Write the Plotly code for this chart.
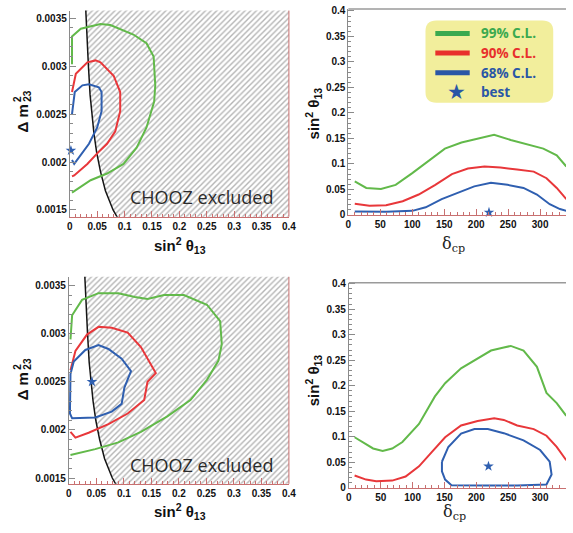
import plotly.graph_objects as go

# ---------------- data ----------------
# Top-left: delta m^2_23 vs sin^2 theta_13
tl_green_x = [0.004, 0.004, 0.02, 0.056, 0.074, 0.116, 0.14, 0.153, 0.156, 0.154, 0.14, 0.122, 0.098, 0.068, 0.038, 0.008, 0.004]
tl_green_y = [0.00302, 0.00331, 0.00339, 0.00344, 0.00343, 0.00333, 0.00324, 0.0031, 0.0028, 0.00263, 0.00236, 0.00215, 0.00198, 0.00188, 0.00181, 0.0017, 0.00168]
tl_red_x = [0.004, 0.011, 0.032, 0.047, 0.056, 0.08, 0.092, 0.092, 0.083, 0.068, 0.05, 0.032, 0.008, 0.004]
tl_red_y = [0.00273, 0.00292, 0.00304, 0.00306, 0.00304, 0.0029, 0.00273, 0.00253, 0.00232, 0.00219, 0.00209, 0.00198, 0.00186, 0.00185]
tl_blue_x = [0.004, 0.009, 0.023, 0.035, 0.053, 0.058, 0.058, 0.05, 0.035, 0.017, 0.008, 0.004]
tl_blue_y = [0.0025, 0.00273, 0.0028, 0.00281, 0.00278, 0.00273, 0.00253, 0.00236, 0.00219, 0.00205, 0.00198, 0.00202]
tl_best = (0.002, 0.00212)

# Bottom-left
bl_green_x = [0.003, 0.006, 0.024, 0.054, 0.09, 0.12, 0.143, 0.173, 0.209, 0.251, 0.275, 0.278, 0.272, 0.251, 0.221, 0.179, 0.131, 0.09, 0.048, 0.012, 0.003]
bl_green_y = [0.00294, 0.00319, 0.00335, 0.00342, 0.00342, 0.00338, 0.00336, 0.0034, 0.0034, 0.0033, 0.00313, 0.00289, 0.00272, 0.00252, 0.00231, 0.00214, 0.00198, 0.00187, 0.0018, 0.00175, 0.00174]
bl_red_x = [0.003, 0.012, 0.033, 0.054, 0.078, 0.107, 0.131, 0.158, 0.143, 0.137, 0.107, 0.072, 0.036, 0.012, 0.003]
bl_red_y = [0.00262, 0.00282, 0.00299, 0.00307, 0.00306, 0.00301, 0.00286, 0.00259, 0.0025, 0.00231, 0.00217, 0.00206, 0.00197, 0.00192, 0.00198]
bl_blue_x = [0.003, 0.009, 0.03, 0.054, 0.072, 0.096, 0.113, 0.101, 0.096, 0.078, 0.048, 0.024, 0.006, 0.002, 0.002, 0.003]
bl_blue_y = [0.00258, 0.00271, 0.00283, 0.00288, 0.00284, 0.00274, 0.00261, 0.00244, 0.00227, 0.00219, 0.00213, 0.00212, 0.00212, 0.00217, 0.00238, 0.00258]
bl_best = (0.042, 0.0025)

# CHOOZ exclusion boundary
chooz_y = [0.00360, 0.0033, 0.0030, 0.0027, 0.0025, 0.0023, 0.0021, 0.0019, 0.0017, 0.0015, 0.00140]
chooz_x = [0.029, 0.031, 0.034, 0.037, 0.040, 0.044, 0.049, 0.056, 0.065, 0.079, 0.089]

# Top-right: sin^2 theta_13 vs delta_cp
tr_green_x = [10, 28, 51, 74, 100, 126, 151, 177, 203, 228, 254, 280, 305, 326, 341]
tr_green_y = [0.066, 0.053, 0.051, 0.059, 0.082, 0.107, 0.13, 0.142, 0.150, 0.157, 0.147, 0.139, 0.13, 0.117, 0.095]
tr_red_x = [10, 33, 59, 85, 110, 136, 162, 187, 213, 238, 264, 290, 310, 326, 341]
tr_red_y = [0.022, 0.018, 0.019, 0.027, 0.04, 0.059, 0.08, 0.091, 0.095, 0.093, 0.089, 0.085, 0.072, 0.053, 0.031]
tr_blue_x = [10, 59, 100, 121, 146, 172, 197, 223, 249, 274, 295, 315, 331, 341]
tr_blue_y = [0.007, 0.0064, 0.008, 0.015, 0.031, 0.043, 0.056, 0.063, 0.059, 0.053, 0.04, 0.021, 0.0115, 0.008]
tr_best = (220, 0.005)

# Bottom-right
br_green_x = [9, 22, 38, 53, 68, 84, 110, 135, 151, 176, 202, 223, 243, 254, 274, 295, 310, 326, 341]
br_green_y = [0.099, 0.0896, 0.077, 0.072, 0.077, 0.0896, 0.125, 0.179, 0.205, 0.234, 0.253, 0.269, 0.275, 0.278, 0.269, 0.237, 0.186, 0.166, 0.141]
br_red_x = [9, 27, 43, 68, 89, 110, 130, 151, 176, 202, 228, 243, 264, 290, 310, 326, 341]
br_red_y = [0.024, 0.016, 0.0128, 0.014, 0.022, 0.042, 0.07, 0.099, 0.122, 0.131, 0.136, 0.133, 0.122, 0.115, 0.102, 0.08, 0.054]
br_blue_x = [146, 156, 176, 197, 218, 243, 274, 300, 315, 318, 310, 264, 213, 161, 151, 146, 146]
br_blue_y = [0.051, 0.08, 0.106, 0.115, 0.115, 0.107, 0.093, 0.074, 0.051, 0.026, 0.0064, 0.0045, 0.0045, 0.005, 0.016, 0.032, 0.051]
br_best = (219, 0.042)

# tick labels
left_x_ticks = [0, 0.05, 0.1, 0.15, 0.2, 0.25, 0.3, 0.35, 0.4]
left_x_text = ["0", "0.05", "0.1", "0.15", "0.2", "0.25", "0.3", "0.35", "0.4"]
left_y_ticks = [0.0015, 0.002, 0.0025, 0.003, 0.0035]
left_y_text = ["0.0015", "0.002", "0.0025", "0.003", "0.0035"]
right_x_ticks = [0, 50, 100, 150, 200, 250, 300]
right_x_text = ["0", "50", "100", "150", "200", "250", "300"]
right_y_ticks = [0, 0.05, 0.1, 0.15, 0.2, 0.25, 0.3, 0.35, 0.4]
right_y_text = ["0", "0.05", "0.1", "0.15", "0.2", "0.25", "0.3", "0.35", "0.4"]

legend_labels = ["99% C.L.", "90% C.L.", "68% C.L.", "best"]

# ---------------- styling ----------------
W, H = 573, 533
GREEN = "#62b94a"
RED = "#e8373a"
BLUE = "#2f5fb0"
LG_GREEN = "#3aa94f"
LG_RED = "#e8302c"
LG_BLUE = "#2a56a6"
AXIS_GRAY = "#8a8a8a"
AXIS_RED = "#c87070"

def px(x):
    return x / W

def py(y):
    return 1 - y / H

fig = go.Figure()

def add_contours(xa, ya, gx, gy, rx, ry, bx, by, best):
    for xs, ys, c in ((gx, gy, GREEN), (rx, ry, RED), (bx, by, BLUE)):
        fig.add_trace(go.Scatter(x=xs, y=ys, mode="lines", xaxis=xa, yaxis=ya,
                                 line=dict(color=c, width=2), showlegend=False,
                                 hoverinfo="skip"))
    fig.add_trace(go.Scatter(x=[best[0]], y=[best[1]], mode="markers", xaxis=xa, yaxis=ya,
                             marker=dict(symbol="star", size=8, color=BLUE),
                             showlegend=False, hoverinfo="skip", cliponaxis=False))

def add_chooz(xa, ya):
    hx = chooz_x + [0.42, 0.42]
    hy = chooz_y + [chooz_y[-1], chooz_y[0]]
    fig.add_trace(go.Scatter(x=hx, y=hy, mode="lines", fill="toself", xaxis=xa, yaxis=ya,
                             line=dict(width=0, color="rgba(0,0,0,0)"),
                             fillcolor="white",
                             fillpattern=dict(shape="/", fgcolor="#6a6a6a", bgcolor="white",
                                              size=4, solidity=0.35),
                             showlegend=False, hoverinfo="skip"))
    fig.add_trace(go.Scatter(x=chooz_x, y=chooz_y, mode="lines", xaxis=xa, yaxis=ya,
                             line=dict(color="#151515", width=1.5), showlegend=False,
                             hoverinfo="skip"))

# top-left
add_chooz("x", "y")
add_contours("x", "y", tl_green_x, tl_green_y, tl_red_x, tl_red_y, tl_blue_x, tl_blue_y, tl_best)
# top-right
add_contours("x2", "y2", tr_green_x, tr_green_y, tr_red_x, tr_red_y, tr_blue_x, tr_blue_y, tr_best)
# bottom-left
add_chooz("x3", "y3")
add_contours("x3", "y3", bl_green_x, bl_green_y, bl_red_x, bl_red_y, bl_blue_x, bl_blue_y, bl_best)
# bottom-right
add_contours("x4", "y4", br_green_x, br_green_y, br_red_x, br_red_y, br_blue_x, br_blue_y, br_best)

tickfont = dict(family="Liberation Sans", size=10, color="#111", weight="bold")

def xaxis_cfg(dom, rng, tv, tt, dt_minor, anchor, lc):
    return dict(domain=dom, range=rng, anchor=anchor, tickvals=tv, ticktext=tt,
                ticks="inside", ticklen=6, tickcolor=lc, showline=True, linecolor=lc,
                linewidth=1, showgrid=False, zeroline=False, tickfont=tickfont,
                minor=dict(ticks="inside", ticklen=3, dtick=dt_minor, tickcolor=lc, showgrid=False))

def yaxis_cfg(dom, rng, tv, tt, dt_minor, anchor):
    return dict(domain=dom, range=rng, anchor=anchor, tickvals=tv, ticktext=tt,
                ticks="inside", ticklen=6, tickcolor=AXIS_GRAY, showline=True,
                linecolor=AXIS_GRAY, linewidth=1, showgrid=False, zeroline=False,
                tickfont=tickfont,
                minor=dict(ticks="inside", ticklen=3, dtick=dt_minor, tickcolor=AXIS_GRAY, showgrid=False))

tl_dom_x = [px(68), px(291)]
tl_dom_y = [py(216.7), py(6.7)]
bl_dom_x = [px(67), px(291)]
bl_dom_y = [py(489), py(278)]
tr_dom_x = [px(351.5), 1.0]
tr_dom_y = [py(215.5), py(5)]
br_dom_x = [px(352), 1.0]
br_dom_y = [py(493), py(284)]

fig.update_layout(
    width=W, height=H, margin=dict(l=0, r=0, t=0, b=0),
    paper_bgcolor="white", plot_bgcolor="white", showlegend=False,
    xaxis=xaxis_cfg(tl_dom_x, [0, 0.4], left_x_ticks, left_x_text, 0.01, "y", AXIS_RED),
    yaxis=yaxis_cfg(tl_dom_y, [0.00143, 0.00358], left_y_ticks, left_y_text, 0.0001, "x"),
    xaxis2=xaxis_cfg(tr_dom_x, [0, 340.5], right_x_ticks, right_x_text, 10, "y2", AXIS_RED),
    yaxis2=yaxis_cfg(tr_dom_y, [-0.001, 0.404], right_y_ticks, right_y_text, 0.01, "x2"),
    xaxis3=xaxis_cfg(bl_dom_x, [0, 0.4], left_x_ticks, left_x_text, 0.01, "y3", AXIS_RED),
    yaxis3=yaxis_cfg(bl_dom_y, [0.00144, 0.00359], left_y_ticks, left_y_text, 0.0001, "x3"),
    xaxis4=xaxis_cfg(br_dom_x, [0, 340.6], right_x_ticks, right_x_text, 10, "y4", AXIS_RED),
    yaxis4=yaxis_cfg(br_dom_y, [0, 0.402], right_y_ticks, right_y_text, 0.01, "x4"),
)

shapes = []
# right frame edges of the left panels (red)
for dx, dy in ((tl_dom_x, tl_dom_y), (bl_dom_x, bl_dom_y)):
    shapes.append(dict(type="line", xref="paper", yref="paper", x0=dx[1], x1=dx[1],
                       y0=dy[0], y1=dy[1], line=dict(color=AXIS_RED, width=1)))
# top frame of right panels (gray)
for dx, dy in ((tr_dom_x, tr_dom_y), (br_dom_x, br_dom_y)):
    shapes.append(dict(type="line", xref="paper", yref="paper", x0=dx[0], x1=dx[1],
                       y0=dy[1], y1=dy[1], line=dict(color="#9a9a9a", width=1.5)))

# legend box (rounded)
x0, x1, y0, y1, r = 430, 560, 16.7, 100.7, 11
path = (f"M {px(x0 + r)},{py(y0)} L {px(x1 - r)},{py(y0)} Q {px(x1)},{py(y0)} {px(x1)},{py(y0 + r)} "
        f"L {px(x1)},{py(y1 - r)} Q {px(x1)},{py(y1)} {px(x1 - r)},{py(y1)} "
        f"L {px(x0 + r)},{py(y1)} Q {px(x0)},{py(y1)} {px(x0)},{py(y1 - r)} "
        f"L {px(x0)},{py(y0 + r)} Q {px(x0)},{py(y0)} {px(x0 + r)},{py(y0)} Z")
shapes.append(dict(type="path", xref="paper", yref="paper", path=path,
                   fillcolor="#f2ee9c", line=dict(width=0)))
leg_colors = [LG_GREEN, LG_RED, LG_BLUE]
leg_y = [30, 50, 70, 90]
for c, yy in zip(leg_colors, leg_y[:3]):
    shapes.append(dict(type="rect", xref="paper", yref="paper", x0=px(440), x1=px(475),
                       y0=py(yy + 2.6), y1=py(yy - 2.6), fillcolor=c, line=dict(width=0)))
fig.update_layout(shapes=shapes)

ann = []

def add_text(x, y, text, font, angle=0, xa="center", ya="middle"):
    ann.append(dict(x=px(x), y=py(y), xref="paper", yref="paper", text=text, showarrow=False,
                    xanchor=xa, yanchor=ya, textangle=angle, font=font))

for lab, c, yy in zip(legend_labels, leg_colors + [LG_BLUE], leg_y):
    add_text(484, yy, lab, dict(family="Open Sans", size=13.5, color=c, weight="bold"), xa="left")
add_text(462, 89.5, "★", dict(family="DejaVu Sans", size=21, color=LG_BLUE))

title_font = dict(family="Liberation Sans", size=15, color="#111", weight="bold")
small_font = dict(family="Liberation Sans", size=10, color="#111", weight="bold")
delta_font = dict(family="DejaVu Serif", size=16, color="#222")
# x titles
add_text(180, 246, "sin<sup>2</sup> θ<sub>13</sub>", title_font)
add_text(180, 517, "sin<sup>2</sup> θ<sub>13</sub>", title_font)
add_text(458, 245, "δ<sub>cp</sub>", delta_font)
add_text(460, 518, "δ<sub>cp</sub>", delta_font)
# y titles for left panels: "Δ m" with stacked 2 / 23
for dy in (0, 273):
    add_text(20, 117 + dy, "Δ m", title_font, angle=-90)
    add_text(14, 97 + dy, "2", small_font, angle=-90)
    add_text(25, 94 + dy, "23", small_font, angle=-90)
# y titles for right panels
add_text(316, 111, "sin<sup>2</sup> θ<sub>13</sub>", title_font, angle=-90)
add_text(316, 383, "sin<sup>2</sup> θ<sub>13</sub>", title_font, angle=-90)
# CHOOZ labels
chooz_font = dict(family="Open Sans", size=18, color="#2a2a2a")
add_text(202, 197, "CHOOZ excluded", chooz_font)
add_text(202, 470, "CHOOZ excluded", chooz_font)
fig.update_layout(annotations=ann)

fig.write_html("out.html")
